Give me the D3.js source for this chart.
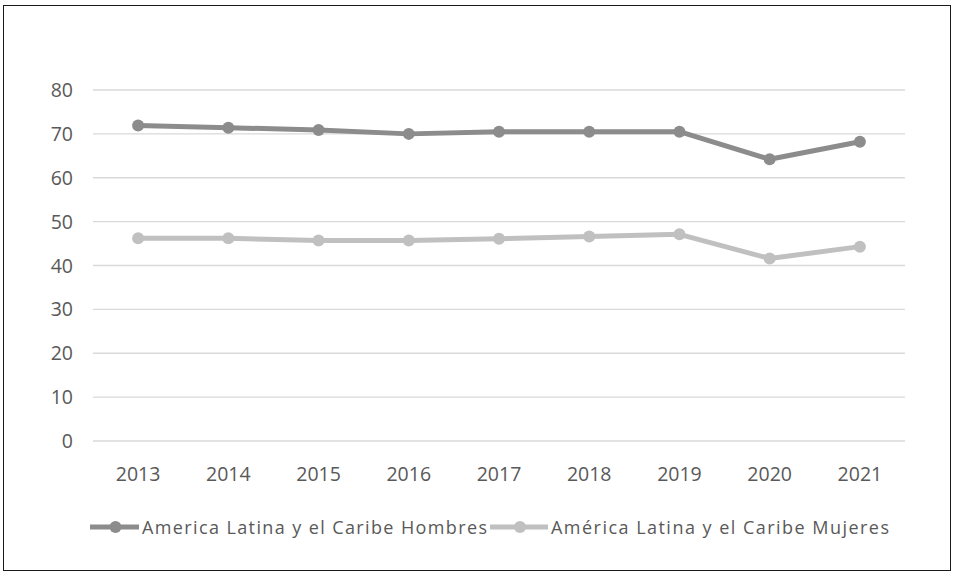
<!DOCTYPE html>
<html>
<head>
<meta charset="utf-8">
<script src="https://cdn.jsdelivr.net/npm/d3@7"></script>
<style>
  body { margin: 0; background: #fff; }
  text { font-family: "Open Sans", "Liberation Sans", sans-serif; fill: #595959; }
</style>
</head>
<body>
<svg id="chart"></svg>
<script>
const years = ["2013", "2014", "2015", "2016", "2017", "2018", "2019", "2020", "2021"];
const hombres = [71.9, 71.4, 70.9, 70.0, 70.5, 70.5, 70.5, 64.2, 68.2];
const mujeres = [46.2, 46.2, 45.7, 45.7, 46.1, 46.6, 47.1, 41.6, 44.3];
const yTicks = [0, 10, 20, 30, 40, 50, 60, 70, 80];
const seriesNames = ["America Latina y el Caribe Hombres", "América Latina y el Caribe Mujeres"];
const seriesColors = ["#8c8c8c", "#c0c0c0"];

let svgWidth = 953, svgHeight = 576;

var svg = d3.select("#chart")
    .attr("width", svgWidth)
    .attr("height", svgHeight);

// outer frame
svg.append("rect")
    .attr("x", 3.5).attr("y", 5.5)
    .attr("width", 947).attr("height", 565)
    .attr("fill", "#fff")
    .attr("stroke", "#1a1a1a")
    .attr("stroke-width", 1);

var x = d3.scaleBand().domain(years).range([93, 905]);
var y = d3.scaleLinear().domain([0, 80]).range([441, 90]);

// gridlines
svg.append("g")
    .selectAll("line")
    .data(yTicks)
    .enter()
    .append("line")
    .attr("x1", 93).attr("x2", 905)
    .attr("y1", d => y(d)).attr("y2", d => y(d))
    .attr("stroke", "#d9d9d9")
    .attr("stroke-width", 1.3);

// y labels
svg.append("g")
    .selectAll("text")
    .data(yTicks)
    .enter()
    .append("text")
    .text(d => d)
    .attr("x", 73)
    .attr("y", d => y(d) + 7)
    .attr("text-anchor", "end")
    .attr("font-size", "19.5px");

// x labels
svg.append("g")
    .selectAll("text")
    .data(years)
    .enter()
    .append("text")
    .text(d => d)
    .attr("x", d => x(d) + x.bandwidth() / 2)
    .attr("y", 481)
    .attr("text-anchor", "middle")
    .attr("font-size", "19.5px");

var line = d3.line()
    .x((d, i) => x(years[i]) + x.bandwidth() / 2)
    .y(d => y(d));

[hombres, mujeres].forEach((vals, k) => {
    svg.append("path")
        .datum(vals)
        .attr("d", line)
        .attr("fill", "none")
        .attr("stroke", seriesColors[k])
        .attr("stroke-width", 5)
        .attr("stroke-linejoin", "round");

    svg.append("g")
        .selectAll("circle")
        .data(vals)
        .enter()
        .append("circle")
        .attr("cx", (d, i) => x(years[i]) + x.bandwidth() / 2)
        .attr("cy", d => y(d))
        .attr("r", 6)
        .attr("fill", seriesColors[k]);
});

// legend
let legendX = [90, 490];
let legendLine = [49, 58];
let legendWidths = [345, 338];
let legendY = 527;
seriesNames.forEach((name, k) => {
    var g = svg.append("g").attr("transform", "translate(" + legendX[k] + "," + legendY + ")");
    g.append("line")
        .attr("x1", 0).attr("x2", legendLine[k])
        .attr("y1", 0).attr("y2", 0)
        .attr("stroke", seriesColors[k])
        .attr("stroke-width", 5);
    g.append("circle")
        .attr("cx", legendLine[k] / 2 + 1).attr("cy", 0).attr("r", 6)
        .attr("fill", seriesColors[k]);
    g.append("text")
        .text(name)
        .attr("x", legendLine[k] + 3)
        .attr("y", 7)
        .attr("font-size", "18px")
        .attr("textLength", legendWidths[k])
        .attr("lengthAdjust", "spacing");
});
</script>
</body>
</html>
